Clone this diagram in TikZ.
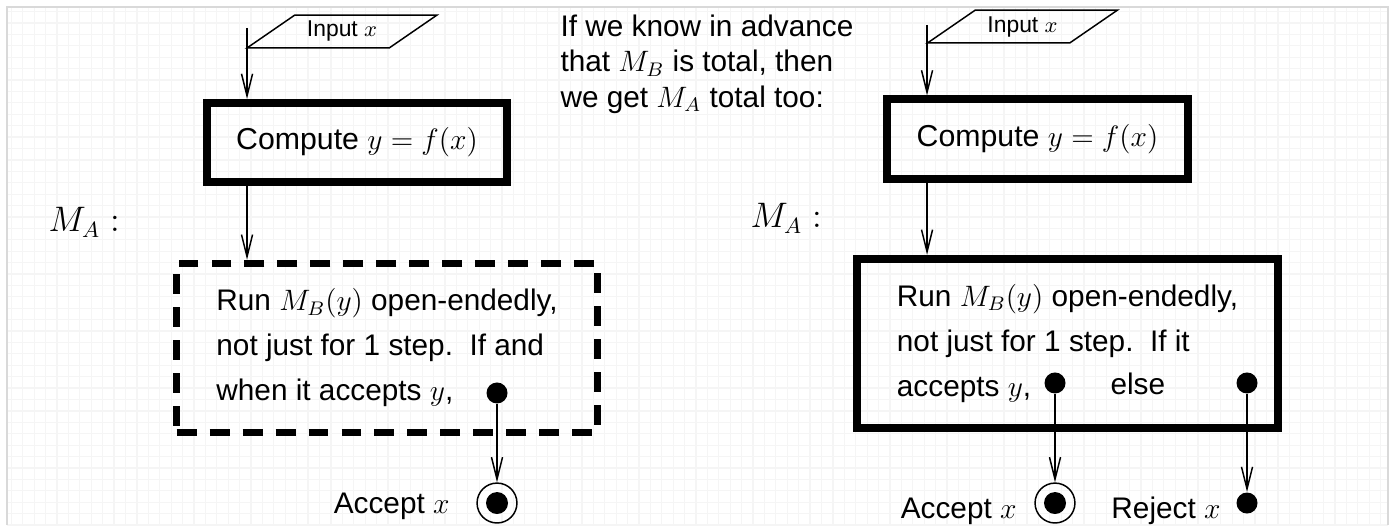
\documentclass[tikz,border=0pt]{standalone}
\usepackage{fontspec}
\setmainfont{Liberation Sans}
\usetikzlibrary{positioning, arrows.meta, shapes.geometric}

\begin{document}
\begin{tikzpicture}[>={Straight Barb[length=9pt,width=4.5pt]},
    thin line/.style={line width=0.6pt},
    io/.style={trapezium, trapezium left angle=30, trapezium right angle=150,
        trapezium stretches=true, draw, line width=0.6pt, inner sep=0pt,
        minimum width=2.72cm, minimum height=0.47cm, font=\fontsize{9.3}{11}\selectfont},
    proc/.style={draw, line width=3.25pt, inner sep=0pt, minimum width=4.29cm,
        minimum height=1.13cm, font=\fontsize{12.3}{14.5}\selectfont},
    runbox/.style={draw, line width=3.2pt, inner sep=0pt, minimum width=6.01cm,
        minimum height=2.42cm, align=left, font=\fontsize{12.1}{18.3}\selectfont},
    blob/.style={circle, fill, minimum size=0.3cm, inner sep=0pt},
    acc/.style={circle, draw, line width=0.6pt, minimum size=0.57cm, inner sep=0pt,
        path picture={\fill (path picture bounding box.center) circle (0.157cm);}},
    txt/.style={inner sep=0pt, font=\fontsize{12.1}{14.5}\selectfont},
]
    \useasboundingbox (0,0) rectangle (19.871,7.5);

    % --- Graph paper ---
    \draw[black!4, line width=0.5pt] (0.1,0) grid[step=0.163] (19.83,7.4);
    \draw[black!15, line width=0.8pt] (0.1,0) -- (0.1,7.4) -- (19.83,7.4) -- (19.83,0);

    % --- Input and compute step, both machines ---
    % \n, input centre, line start, compute centre, label
    \foreach \n/\ix/\iy/\sx/\sy/\cx/\cy/\mx/\my in {
        L/4.886/7.05/3.529/7.1/5.1/5.464/0.686/4.186,
        R/14.607/7.121/13.243/7.143/14.821/5.514/10.714/4.243%
    } {
        \node[io] (in\n) at (\ix,\iy) {Input $x$};
        \coordinate (s\n) at (\sx,\sy);
        \node[proc] (c\n) at (\cx,\cy) {Compute $y = f(x)$};
        \node[txt, anchor=base west, font=\fontsize{13.5}{15}\selectfont] (ma\n) at (\mx,\my) {$M_A:$};
        \draw[->, thin line] (s\n) -- (s\n |- c\n.north);
    }

    % --- Note in the middle ---
    \node[txt, align=left, anchor=north west] (note) at (8.0,7.3)
        {If we know in advance\\that $M_B$ is total, then\\we get $M_A$ total too:};

    % --- Left: run M_B open-endedly ---
    \node[runbox, line width=2.85pt, dash pattern=on 8.1pt off 5.3pt] (bL) at (5.529,2.529)
        {Run $M_B(y)$ open-endedly,\\not just for 1 step.\ \ If and\\when it accepts $y$,};
    \node[blob] (dL) at (7.1,1.886) {};
    \node[acc] (aL) at (7.1,0.314) {};
    \node[txt, anchor=base east] (taL) at (6.429,0.171) {Accept $x$};

    \draw[->, thin line] (sL |- cL.south) -- (sL |- bL.north);
    \draw[->, thin line] (dL) -- (aL);

    % --- Right: M_B total, so both outcomes ---
    \node[runbox] (bR) at (15.25,2.593)
        {Run $M_B(y)$ open-endedly,\\not just for 1 step.\ \ If it\\accepts $y$,};
    \node[txt, anchor=base west] (else) at (15.857,1.86) {else};
    \node[blob] (dR1) at (15.071,2.029) {};
    \node[blob] (dR2) at (17.814,2.029) {};
    \node[acc] (aR) at (15.071,0.314) {};
    \node[blob] (rR) at (17.814,0.314) {};
    \node[txt, anchor=base east] (taR) at (14.529,0.1) {Accept $x$};
    \node[txt, anchor=base east] (trR) at (17.443,0.1) {Reject $x$};

    \draw[->, thin line] (sR |- cR.south) -- (sR |- bR.north);
    \draw[->, thin line] (dR1) -- (aR);
    \draw[->, thin line] (dR2) -- (rR);

\end{tikzpicture}
\end{document}
